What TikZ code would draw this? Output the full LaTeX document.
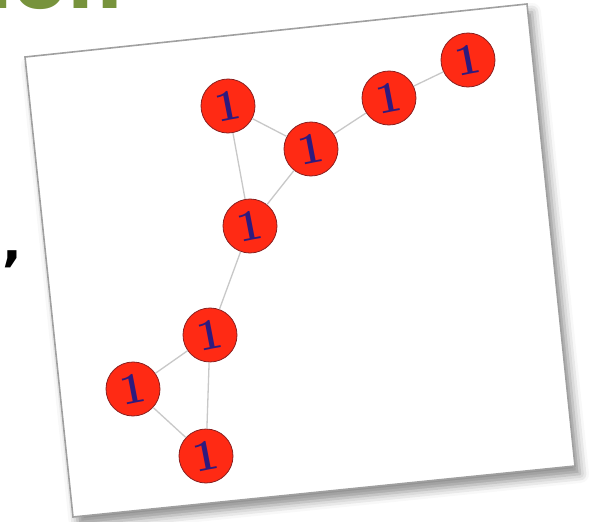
\documentclass[tikz,border=0pt]{standalone}
\usepackage{fontspec}
\newfontfamily\titlefont{DejaVu Sans}
\usetikzlibrary{shadows.blur}
\definecolor{titlegreen}{HTML}{77933C}
\definecolor{cardgray}{HTML}{A0A0A0}
\definecolor{nodered}{HTML}{FF2A14}
\definecolor{nodeborder}{HTML}{8A1E1E}
\definecolor{numblue}{HTML}{2E1A7E}
\definecolor{edgegray}{HTML}{C8C8C8}
\tikzset{
  vtx/.style={circle, minimum size=54pt, inner sep=0pt, fill=nodered, draw=nodeborder,
    line width=0.8pt, text=numblue, font=\bfseries\fontsize{44}{44}\selectfont, rotate=11},
  link/.style={draw=edgegray, line width=1.3pt},
  card/.style={fill=white, draw=cardgray, line width=1.6pt,
    blur shadow={shadow xshift=5pt, shadow yshift=-8pt, shadow blur radius=9pt, shadow opacity=45}},
  titletext/.style={inner sep=0pt, text=titlegreen, font=\titlefont\bfseries\fontsize{78}{80}\selectfont},
  punct/.style={inner sep=0pt, text=black, font=\titlefont\bfseries\fontsize{52}{56}\selectfont}
}
\begin{document}
\begin{tikzpicture}[x=1pt,y=-1pt]
\useasboundingbox (0,0) rectangle (598,522);
\clip (0,0) rectangle (598,522);
\node[titletext, anchor=base east] (title) at (123,9) {ion};
\node[punct, anchor=base west] (comma) at (2,260) {,};
\path[card] (25,57) -- (527,4) -- (575,466) -- (73,517) -- cycle;
\node[vtx] (a) at (228,106) {1};
\node[vtx] (b) at (311,149) {1};
\node[vtx] (c) at (389,98) {1};
\node[vtx] (d) at (468,60) {1};
\node[vtx] (e) at (250,226) {1};
\node[vtx] (f) at (210,335) {1};
\node[vtx] (g) at (133,389) {1};
\node[vtx] (h) at (206,456) {1};
\draw[link] (a) -- (b);
\draw[link] (b) -- (c);
\draw[link] (c) -- (d);
\draw[link] (a) -- (e);
\draw[link] (b) -- (e);
\draw[link] (e) -- (f);
\draw[link] (f) -- (g);
\draw[link] (f) -- (h);
\draw[link] (g) -- (h);
\end{tikzpicture}
\end{document}
